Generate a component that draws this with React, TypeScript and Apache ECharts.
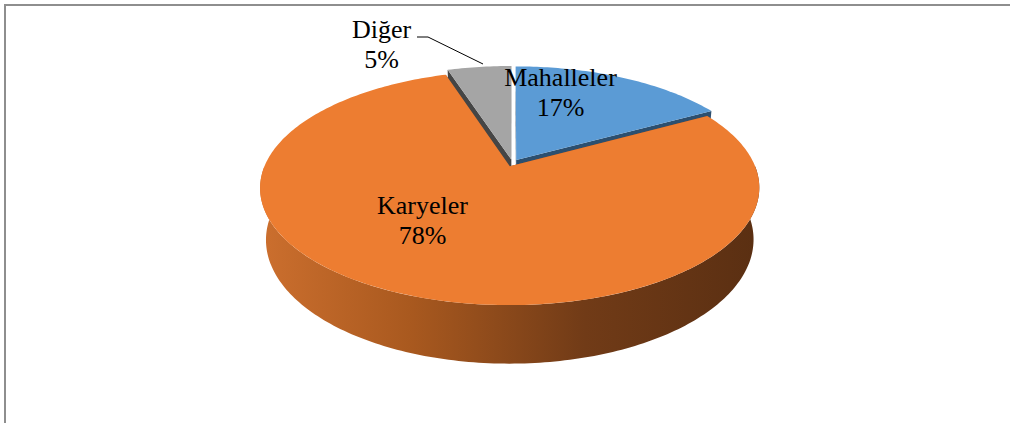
import React, { useEffect, useRef } from "react";
import * as echarts from "echarts";

// ---- data ----
const categories: string[] = ["Mahalleler", "Karyeler", "Diğer"];
const values: number[] = [17, 78, 5];

// ---- styles / layout (kept apart from the data) ----
const topColors = ["#5B9BD5", "#ED7D31", "#A5A5A5"];
const wallColors = ["#2C4F6F", "#8A4A1E", "#454545"];
const explode = [0.03, 0.03, 0.032];
const labelOffsets: [number, number][] = [
  [48, -71],
  [-90, 57],
  [-131, -119],
];

const CX = 512.5;
const CY = 163;
const K = 244;
const DIST = 4.81;
const SA = 0.459;
const CA = Math.sqrt(1 - SA * SA);
const H = 0.24;

function proj(x: number, y: number, z: number): number[] {
  const depth = DIST - (y * SA + z * CA);
  const X = x;
  const Y = y * CA - z * SA;
  return [CX + (K * X * DIST) / depth, CY - (K * Y * DIST) / depth];
}

const total = values.reduce((a, b) => a + b, 0);
const starts: number[] = [];
{
  let acc = 0;
  values.forEach((v) => {
    starts.push((acc / total) * 360);
    acc += v;
  });
}

function renderItem(params: any, api: any) {
  const i = params.dataIndex;
  const v = api.value(0);
  const a0 = starts[i];
  const a1 = a0 + (v / total) * 360;
  const am = (((a0 + a1) / 2) * Math.PI) / 180;
  const e = explode[i];
  const ox = e * Math.sin(am);
  const oz = -e * Math.cos(am);
  const P = (phiDeg: number, r: number, y: number) => {
    const p = (phiDeg * Math.PI) / 180;
    return proj(ox + r * Math.sin(p), y, oz - r * Math.cos(p));
  };
  const rim = (from: number, to: number, y: number) => {
    const n = Math.max(2, Math.ceil(Math.abs(to - from) / 1));
    const pts: number[][] = [];
    for (let j = 0; j <= n; j++) {
      pts.push(P(from + ((to - from) * j) / n, 1, y));
    }
    return pts;
  };
  const children: any[] = [];
  // radial walls
  [a0, a1].forEach((a) => {
    children.push({
      type: "polygon",
      z2: 1,
      shape: { points: [P(a, 0, 0), P(a, 1, 0), P(a, 1, -H), P(a, 0, -H)] },
      style: { fill: wallColors[i] },
    });
  });
  // outer (front) wall
  const w0 = Math.max(a0, 90);
  const w1 = Math.min(a1, 270);
  if (w1 > w0) {
    const pts = rim(w0, w1, 0).concat(rim(w1, w0, -H));
    children.push({
      type: "polygon",
      z2: 2,
      shape: { points: pts },
      style: {
        fill:
          i === 1
            ? new echarts.graphic.LinearGradient(0, 0, 1, 0, [
                { offset: 0, color: "#CC6F2E" },
                { offset: 0.3, color: "#A9591F" },
                { offset: 0.65, color: "#713B17" },
                { offset: 1, color: "#5A2F12" },
              ])
            : wallColors[i],
      },
    });
  }
  // top face
  children.push({
    type: "polygon",
    z2: 10,
    shape: { points: [P(a0, 0, 0)].concat(rim(a0, a1, 0)) },
    style: { fill: topColors[i] },
  });
  // label
  const pct = Math.round((v / total) * 100) + "%";
  children.push({
    type: "text",
    z2: 20,
    style: {
      text: categories[i] + "\n" + pct,
      x: CX + labelOffsets[i][0],
      y: CY + labelOffsets[i][1],
      align: "center",
      verticalAlign: "middle",
      fontFamily: '"Liberation Serif", "Times New Roman", serif',
      fontSize: 26,
      lineHeight: 30,
      fill: "#000",
    },
  });
  return { type: "group", children };
}

export default function App() {
  const ref = useRef<HTMLDivElement>(null);
  useEffect(() => {
    if (!ref.current) return;
    const chart = echarts.init(ref.current, undefined, { renderer: "svg" });
    chart.setOption({
      animation: false,
      backgroundColor: "#ffffff",
      graphic: [
        {
          type: "rect",
          shape: { x: 5, y: 5, width: 1200, height: 600 },
          style: { fill: "none", stroke: "#8E8E8E", lineWidth: 2 },
          silent: true,
        },
        {
          type: "polyline",
          shape: {
            points: [
              [417, 37],
              [428, 37],
              [483, 64],
            ],
          },
          style: { stroke: "#000", lineWidth: 1, fill: "none" },
          z: 10,
          silent: true,
        },
      ],
      series: [
        {
          type: "custom",
          coordinateSystem: "none",
          renderItem,
          silent: true,
          data: values.map((v, i) => ({ value: [v], name: categories[i] })),
        },
      ],
    });
    return () => chart.dispose();
  }, []);
  return (
    <div
      ref={ref}
      style={{ position: "fixed", left: 0, top: 0, width: 1010, height: 423 }}
    />
  );
}
